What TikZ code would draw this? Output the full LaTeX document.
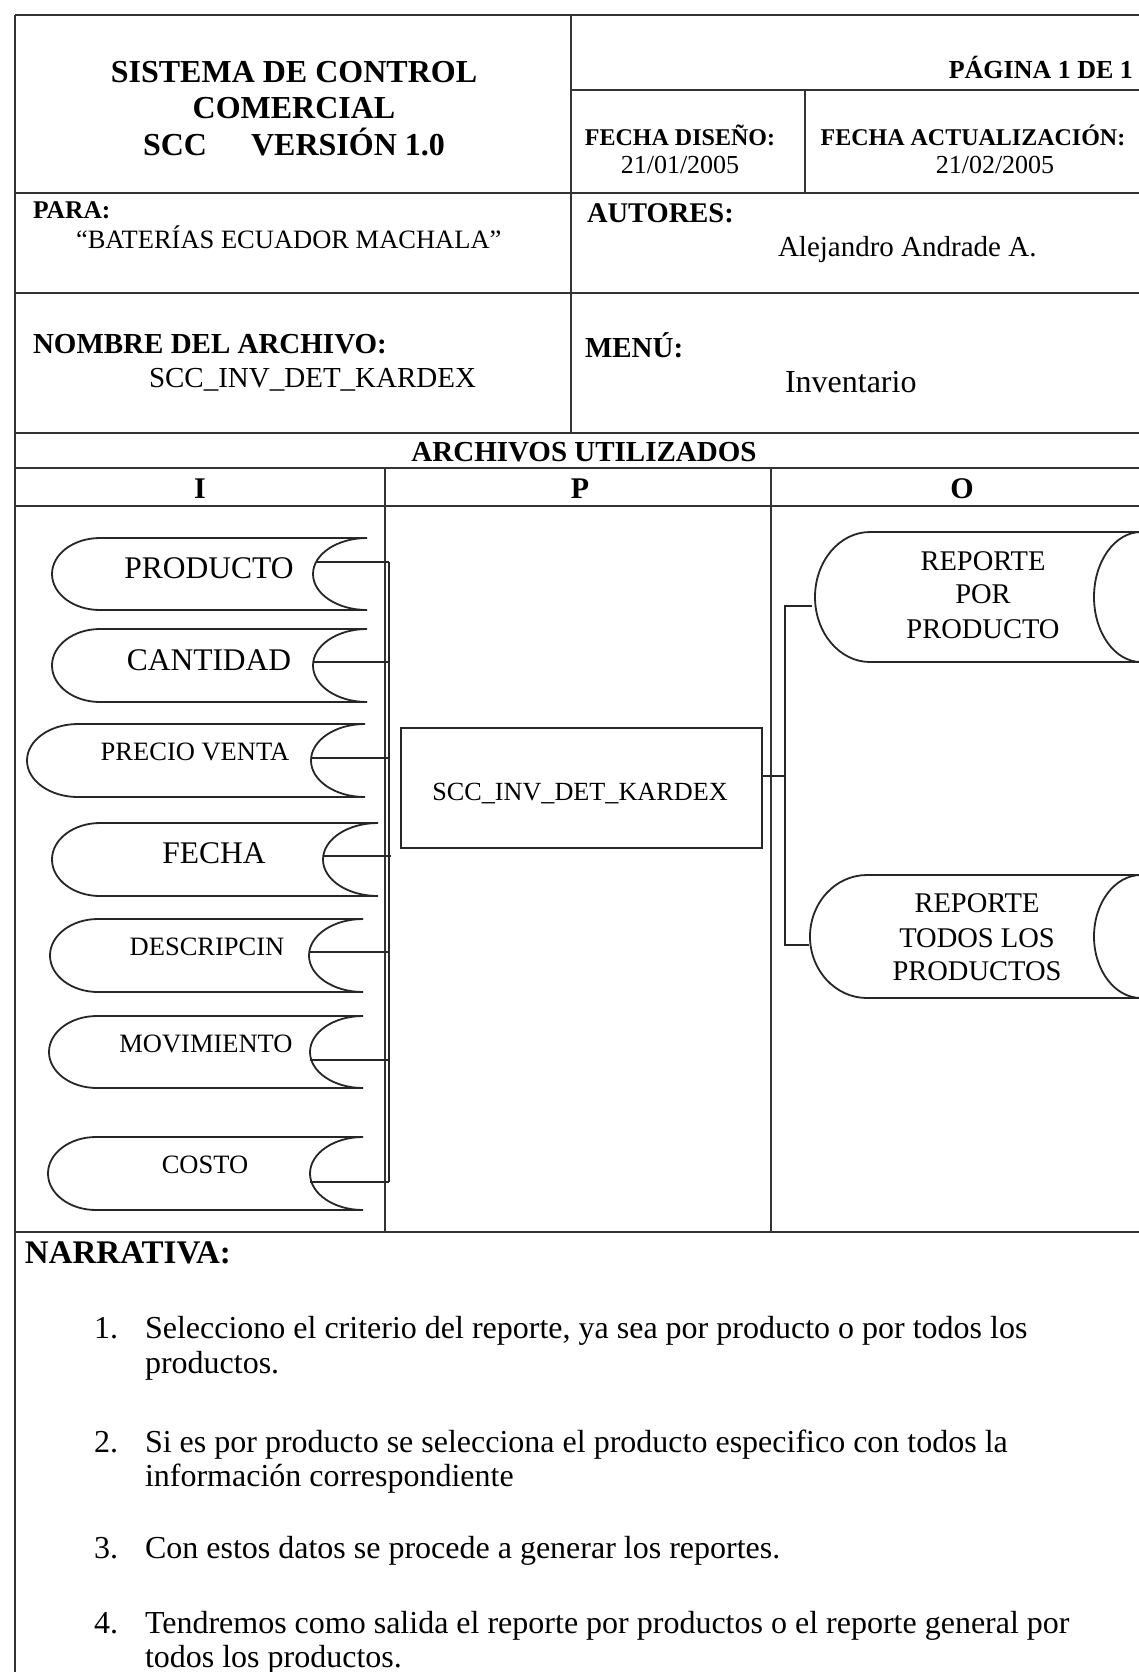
\documentclass[tikz,border=0pt]{standalone}
\usepackage{fontspec}
\setmainfont{Liberation Serif}
\newcommand\fs[1]{\fontsize{#1}{#1}\selectfont}
\newcommand\ioshape[6]{% xl, xr, yt, yb, dl, dr
  \draw[shp] ({#1+#5},#3) -- (#2,#3)
    arc[start angle=-90, end angle=-270, x radius=#6, y radius={(#4-#3)/2}]
    -- ({#1+#5},#4)
    arc[start angle=90, end angle=270, x radius=#5, y radius={(#4-#3)/2}] -- cycle;}
\tikzset{
  tline/.style={line width=0.7pt, draw=black!80},
  shp/.style={line width=0.9pt, draw=black!85},
  conn/.style={line width=0.8pt, draw=black!85},
  lbl/.style={inner sep=0pt, outer sep=0pt, anchor=base},
  lblw/.style={lbl, anchor=base west},
}
\begin{document}
\begin{tikzpicture}[x=0.5pt, y=-0.5pt]
\fill[white] (0,0) rectangle (1139,1672);
\useasboundingbox (0,0) rectangle (1139,1672);

% ---------- table lines ----------
\draw[tline] (15,15) -- (1139,15);
\draw[tline] (15,15) -- (15,1672);
\draw[tline] (571,15) -- (571,433);
\draw[tline] (571,90) -- (1139,90);
\draw[tline] (805,90) -- (805,193);
\draw[tline] (15,193) -- (1139,193);
\draw[tline] (15,293) -- (1139,293);
\draw[tline] (15,433) -- (1139,433);
\draw[tline] (15,468) -- (1139,468);
\draw[tline] (15,506) -- (1139,506);
\draw[tline] (385,468) -- (385,1232);
\draw[tline] (771,468) -- (771,1232);
\draw[tline] (15,1232) -- (1139,1232);

% ---------- header texts ----------
\node[lbl, font=\bfseries\fs{16}] (t1) at (294,82) {SISTEMA DE CONTROL};
\node[lbl, font=\bfseries\fs{16}] (t2) at (294,118) {COMERCIAL};
\node[lbl, font=\bfseries\fs{16}] (t3) at (294,155) {SCC\hspace{22pt}VERSIÓN 1.0};
\node[lbl, anchor=base east, font=\bfseries\fs{13}] (pag) at (1133,78) {PÁGINA 1 DE 1};
\node[lbl, font=\bfseries\fs{12}] (fd) at (680,145) {FECHA DISEÑO:};
\node[lbl, font=\fs{13}] (fdv) at (680,173) {21/01/2005};
\node[lbl, font=\bfseries\fs{12}] (fa) at (973,145) {FECHA ACTUALIZACIÓN:};
\node[lbl, font=\fs{13}] (fav) at (995,173) {21/02/2005};
\node[lblw, font=\bfseries\fs{12.75}] (para) at (33,218) {PARA:};
\node[lblw, font=\fs{13.25}] (parav) at (76,248) {“BATERÍAS ECUADOR MACHALA”};
\node[lblw, font=\bfseries\fs{14.25}] (aut) at (587,222) {AUTORES:};
\node[lblw, font=\fs{14.5}] (autv) at (778,256) {Alejandro Andrade A.};
\node[lblw, font=\bfseries\fs{14.5}] (nom) at (33,353) {NOMBRE DEL ARCHIVO:};
\node[lblw, font=\fs{14.5}] (nomv) at (149,387) {SCC\_INV\_DET\_KARDEX};
\node[lblw, font=\bfseries\fs{14.5}] (menu) at (585,357) {MENÚ:};
\node[lblw, font=\fs{16}] (menuv) at (785,392) {Inventario};
\node[lbl, font=\bfseries\fs{14.5}] (arch) at (584,461) {ARCHIVOS UTILIZADOS};
\node[lbl, font=\bfseries\fs{15}] (hI) at (200,498) {I};
\node[lbl, font=\bfseries\fs{15}] (hP) at (580,498) {P};
\node[lbl, font=\bfseries\fs{15}] (hO) at (962,498) {O};

% ---------- input shapes ----------
\ioshape{52}{367}{538}{610}{48}{54}
\ioshape{52}{367}{629}{702}{48}{54}
\ioshape{27}{365}{724}{797}{51}{54}
\ioshape{52}{378}{823}{896}{48}{55}
\ioshape{50}{363}{919}{992}{48}{54}
\ioshape{49}{363}{1016}{1088}{48}{53}
\ioshape{48}{363}{1137}{1210}{48}{53}

\node[lbl, font=\fs{15.75}] (i1) at (209,578) {PRODUCTO};
\node[lbl, font=\fs{15.75}] (i2) at (209,670) {CANTIDAD};
\node[lbl, font=\fs{13.25}] (i3) at (195,760) {PRECIO VENTA};
\node[lbl, font=\fs{15.75}] (i4) at (214,863) {FECHA};
\node[lbl, font=\fs{13.25}] (i5) at (207,955) {DESCRIPCIN};
\node[lbl, font=\fs{13.25}] (i6) at (206,1052) {MOVIMIENTO};
\node[lbl, font=\fs{13.25}] (i7) at (205,1173) {COSTO};

% connection points of inputs
\coordinate (c1) at (316,562);  \coordinate (b1) at (389,562);
\coordinate (c2) at (313,662);  \coordinate (b2) at (389,662);
\coordinate (c3) at (311,758);  \coordinate (b3) at (389,758);
\coordinate (c4) at (323,856);  \coordinate (b4) at (391,856);
\coordinate (c5) at (309,952);  \coordinate (b5) at (389,952);
\coordinate (c6) at (310,1060); \coordinate (b6) at (389,1060);
\coordinate (c7) at (310,1182); \coordinate (b7) at (389,1182);
\foreach \k in {1,...,7} {\draw[conn] (c\k) -- (b\k);}
\draw[conn] (b1) -- (b7);

% ---------- process ----------
\node[draw=black!85, line width=0.9pt, minimum width=180.5pt, minimum height=60pt,
      inner sep=0pt, anchor=north west] (proc) at (400,727) {};
\node[lbl, font=\fs{13.1}] (procl) at (580,800) {SCC\_INV\_DET\_KARDEX};

% ---------- outputs ----------
\ioshape{815}{1141}{532}{662}{55}{47}
\ioshape{810}{1141}{875}{998}{57}{47}
\node[lbl, font=\fs{14.25}] (o1a) at (983,570) {REPORTE};
\node[lbl, font=\fs{14.25}] (o1b) at (983,603) {POR};
\node[lbl, font=\fs{14.25}] (o1c) at (983,638) {PRODUCTO};
\node[lbl, font=\fs{14.25}] (o2a) at (977,912) {REPORTE};
\node[lbl, font=\fs{14.25}] (o2b) at (977,947) {TODOS LOS};
\node[lbl, font=\fs{14.25}] (o2c) at (977,980) {PRODUCTOS};

\coordinate (pj) at (785,776);
\coordinate (o1j) at (785,606);
\coordinate (o2j) at (785,945);
\coordinate (o1e) at (812,606);
\coordinate (o2e) at (809,945);
\draw[conn] (proc.east |- pj) -- (pj);
\draw[conn] (o1e) -- (o1j) -- (o2j) -- (o2e);

% ---------- narrative ----------
\node[lblw, font=\bfseries\fs{16.5}] (narr) at (25,1263) {NARRATIVA:};
\begin{scope}[every node/.style={lblw, font=\fs{16}}]
\node (n1) at (94,1338) {1.};
\node (n1a) at (145,1338) {Selecciono el criterio del reporte, ya sea por producto o por todos los};
\node (n1b) at (145,1373) {productos.};
\node (n2) at (94,1452) {2.};
\node (n2a) at (145,1452) {Si es por producto se selecciona el producto especifico con todos la};
\node (n2b) at (145,1486) {información correspondiente};
\node (n3) at (94,1558) {3.};
\node (n3a) at (145,1558) {Con estos datos se procede a generar los reportes.};
\node (n4) at (94,1633) {4.};
\node (n4a) at (145,1633) {Tendremos como salida el reporte por productos o el reporte general por};
\node (n4b) at (145,1667) {todos los productos.};
\end{scope}
\end{tikzpicture}
\end{document}
